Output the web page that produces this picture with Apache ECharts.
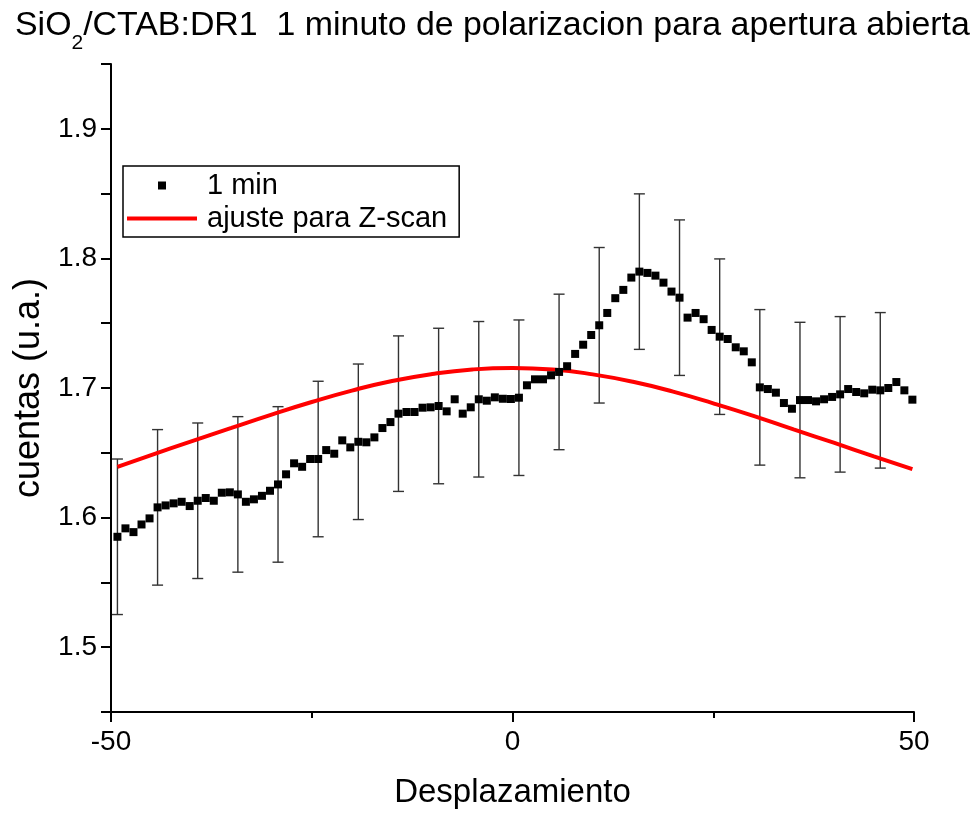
<!DOCTYPE html>
<html>
<head>
<meta charset="utf-8">
<script src="https://cdn.jsdelivr.net/npm/echarts@6/dist/echarts.min.js"></script>
<style>
html,body{margin:0;padding:0;background:#fff;}
#c{width:974px;height:815px;}
</style>
</head>
<body>
<div id="c"></div>
<script>
// ---- data ----
const xs = [
-49.2,-48.2,-47.2,-46.2,-45.2,-44.2,-43.2,-42.2,-41.2,-40.2,
-39.2,-38.2,-37.2,-36.2,-35.2,-34.2,-33.2,-32.2,-31.2,-30.2,
-29.2,-28.2,-27.2,-26.2,-25.2,-24.2,-23.2,-22.2,-21.2,-20.2,
-19.2,-18.2,-17.2,-16.2,-15.2,-14.2,-13.2,-12.2,-11.2,-10.2,
-9.2,-8.2,-7.2,-6.2,-5.2,-4.2,-3.2,-2.2,-1.2,-0.2,
0.8,1.8,2.8,3.8,4.8,5.8,6.8,7.8,8.8,9.8,
10.8,11.8,12.8,13.8,14.8,15.8,16.8,17.8,18.8,19.8,
20.8,21.8,22.8,23.8,24.8,25.8,26.8,27.8,28.8,29.8,
30.8,31.8,32.8,33.8,34.8,35.8,36.8,37.8,38.8,39.8,
40.8,41.8,42.8,43.8,44.8,45.8,46.8,47.8,48.8,49.8
];
const ys = [
1.5852,1.5917,1.5888,1.5947,1.5994,1.6079,1.6094,1.6110,1.6122,1.6089,
1.6130,1.6151,1.6130,1.6192,1.6195,1.6179,1.6122,1.6141,1.6168,1.6207,
1.6256,1.6334,1.6419,1.6392,1.6452,1.6452,1.6521,1.6493,1.6596,1.6542,
1.6585,1.6581,1.6619,1.6691,1.6737,1.6802,1.6815,1.6815,1.6848,1.6851,
1.6861,1.6820,1.6913,1.6802,1.6851,1.6913,1.6902,1.6928,1.6917,1.6915,
1.6925,1.7021,1.7067,1.7067,1.7098,1.7124,1.7168,1.7263,1.7334,1.7409,
1.7484,1.7579,1.7693,1.7757,1.7852,1.7898,1.7888,1.7867,1.7813,1.7744,
1.7697,1.7543,1.7579,1.7531,1.7448,1.7396,1.7378,1.7314,1.7283,1.7198,
1.7005,1.6992,1.6964,1.6884,1.6840,1.6907,1.6907,1.6897,1.6913,1.6931,
1.6951,1.6992,1.6969,1.6959,1.6987,1.6982,1.7000,1.7046,1.6982,1.6910
];
// error bars: indices of points carrying a bar, and half-widths
const errIdx  = [0,5,10,15,20,25,30,35,40,45,50,55,60,65,70,75,80,85,90,95];
const errHalf = [0.06,0.06,0.06,0.06,0.06,0.06,0.06,0.06,0.06,0.06,
                 0.06,0.06,0.06,0.06,0.06,0.06,0.06,0.06,0.06,0.06];
// fitted Z-scan curve
const fitX = [-49.2,-45,-40,-35,-30,-25,-20,-15,-10,-5,0,5,10,15,20,25,30,35,40,45,49.8];
const fitY = [1.6392,1.6482,1.6588,1.6692,1.6795,1.6892,1.6980,1.7054,1.7108,1.7143,1.7155,
              1.7143,1.7105,1.7048,1.6972,1.6882,1.6785,1.6680,1.6578,1.6472,1.6374];
const yTicks = [1.5,1.6,1.7,1.8,1.9];
const xTicks = [-50,0,50];

const seriesName1 = '1 min';
const seriesName2 = 'ajuste para Z-scan';
const FONT = 'Liberation Sans, Arial, sans-serif';

const pts = xs.map((x,i)=>[x, ys[i]]);
const errData = errIdx.map((k,j)=>[xs[k], ys[k]-errHalf[j], ys[k]+errHalf[j]]);
const fitData = fitX.map((x,i)=>[x, fitY[i]]);

const chart = echarts.init(document.getElementById('c'), null, {renderer:'canvas'});
chart.setOption({
  backgroundColor:'#fff',
  animation:false,
  title:{
    text:'{a|SiO}{s|2}{a|/CTAB:DR1  1 minuto de polarizacion para apertura abierta}',
    left:10, top:4,
    textStyle:{
      fontFamily:FONT, fontWeight:'normal',
      rich:{
        a:{fontSize:33.9, fontFamily:FONT, fontWeight:'normal', color:'#000', lineHeight:40, verticalAlign:'top'},
        s:{fontSize:21, fontFamily:FONT, fontWeight:'normal', color:'#000', lineHeight:21, padding:[24,0,0,0], verticalAlign:'top'}
      }
    }
  },
  legend:{
    left:123, top:166, orient:'vertical',
    padding:[5,12,4,4],
    itemGap:4,
    itemWidth:75, itemHeight:8,
    borderColor:'#000', borderWidth:1.5,
    textStyle:{fontFamily:FONT, fontSize:29, color:'#000'},
    data:[
      {name:seriesName1, icon:'path://M0,0M75,8M31,0h8v8h-8z', itemStyle:{color:'#000', opacity:1}},
      {name:seriesName2, icon:'path://M0,0M75,8M0,2h70v4h-70z', itemStyle:{color:'#ff0000', opacity:1}}
    ]
  },
  grid:{left:111, right:60, top:64, bottom:103, containLabel:false},
  xAxis:{
    type:'value', min:-50, max:50, interval:50,
    name:'Desplazamiento', nameLocation:'middle', nameGap:64,
    nameTextStyle:{fontFamily:FONT, fontSize:33, color:'#000'},
    axisLine:{show:true, onZero:false, lineStyle:{color:'#000', width:2}},
    axisTick:{show:true, length:10, lineStyle:{color:'#000', width:2}},
    minorTick:{show:true, splitNumber:2, length:6, lineStyle:{color:'#000', width:2}},
    axisLabel:{fontFamily:FONT, fontSize:28, color:'#000', margin:16,
      formatter:v=> xTicks.indexOf(v)>=0 ? String(v) : ''},
    splitLine:{show:false}, minorSplitLine:{show:false}
  },
  yAxis:{
    type:'value', min:1.45, max:1.95, interval:0.05,
    name:'cuentas (u.a.)', nameLocation:'middle', nameGap:60,
    nameTextStyle:{fontFamily:FONT, fontSize:36, color:'#000'},
    axisLine:{show:true, onZero:false, lineStyle:{color:'#000', width:2}},
    axisTick:{show:true, length:10, lineStyle:{color:'#000', width:2}},
    axisLabel:{fontFamily:FONT, fontSize:28, color:'#000', margin:14,
      formatter:v=>{
        for (const t of yTicks){ if (Math.abs(v-t)<1e-6) return t.toFixed(1); }
        return '';
      }},
    splitLine:{show:false}
  },
  series:[
    {
      type:'custom', name:'err', z:1, silent:true,
      encode:{x:0, y:[1,2]},
      data:errData,
      renderItem:function(params, api){
        const x = api.value(0), lo = api.value(1), hi = api.value(2);
        const a = api.coord([x, lo]), b = api.coord([x, hi]);
        const w = 5.5;
        const st = {stroke:'#333', lineWidth:1.4, fill:null};
        return {type:'group', children:[
          {type:'line', shape:{x1:a[0],y1:a[1],x2:b[0],y2:b[1]}, style:st},
          {type:'line', shape:{x1:a[0]-w,y1:a[1],x2:a[0]+w,y2:a[1]}, style:st},
          {type:'line', shape:{x1:b[0]-w,y1:b[1],x2:b[0]+w,y2:b[1]}, style:st}
        ]};
      }
    },
    {
      type:'line', name:seriesName2, z:2,
      data:fitData, smooth:true, symbol:'none', showSymbol:false,
      lineStyle:{color:'#ff0000', width:4},
      itemStyle:{color:'#ff0000'}
    },
    {
      type:'scatter', name:seriesName1, z:3,
      data:pts, symbol:'rect', symbolSize:8,
      clip:false,
      itemStyle:{color:'#000', opacity:1}
    }
  ]
});
</script>
</body>
</html>
